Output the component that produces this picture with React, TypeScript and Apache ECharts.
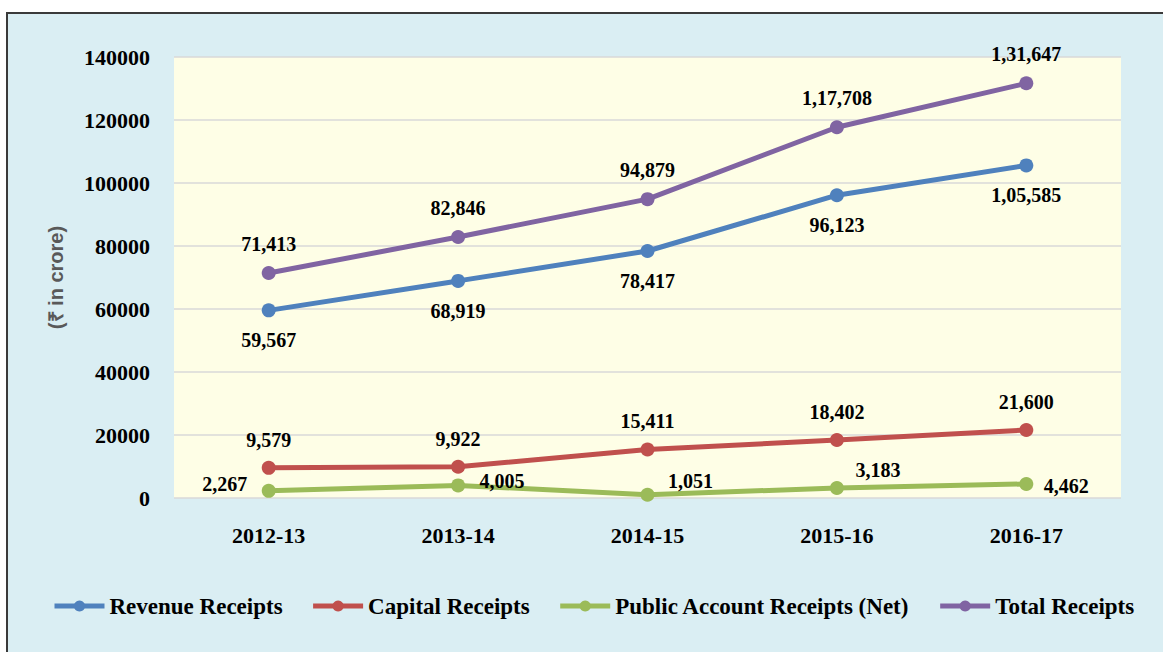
import React, { useEffect, useRef } from "react";
import * as echarts from "echarts";

const categories = ["2012-13", "2013-14", "2014-15", "2015-16", "2016-17"];
const revenueReceipts = [59567, 68919, 78417, 96123, 105585];
const capitalReceipts = [9579, 9922, 15411, 18402, 21600];
const publicAccountReceipts = [2267, 4005, 1051, 3183, 4462];
const totalReceipts = [71413, 82846, 94879, 117708, 131647];
const yTicks = { min: 0, max: 140000, interval: 20000 };
const seriesNames = [
  "Revenue Receipts",
  "Capital Receipts",
  "Public Account Receipts (Net)",
  "Total Receipts",
];

// Indian-style grouping: 1,31,647
function fmtIndian(v: number): string {
  const s = String(Math.round(v));
  if (s.length <= 3) return s;
  const last3 = s.slice(-3);
  let rest = s.slice(0, -3);
  const parts: string[] = [];
  while (rest.length > 2) {
    parts.unshift(rest.slice(-2));
    rest = rest.slice(0, -2);
  }
  if (rest.length) parts.unshift(rest);
  return parts.join(",") + "," + last3;
}

const SERIF = '"Liberation Serif", "Times New Roman", serif';
const colors = ["#4F81BD", "#C0504D", "#9BBB59", "#8064A2"];

export default function App() {
  const ref = useRef<HTMLDivElement>(null);
  useEffect(() => {
    document.body.style.margin = "0";
    if (!ref.current) return;
    const chart = echarts.init(ref.current, undefined, { renderer: "svg" });

    const labelBase = {
      show: true,
      position: "inside" as const,
      color: "#000",
      fontFamily: SERIF,
      fontWeight: "bold" as const,
      fontSize: 20,
      formatter: (p: any) => fmtIndian(p.value),
    };

    const mk = (name: string, data: number[], color: string, offsets: number[][]) => ({
      name,
      type: "line",
      data: data.map((v, i) => ({
        value: v,
        label: { ...labelBase, offset: offsets[i] },
      })),
      symbol: "circle",
      symbolSize: 14,
      showSymbol: true,
      itemStyle: { color },
      lineStyle: { color, width: 5 },
      label: labelBase,
      z: 3,
    });

    const rep = (o: number[]) => categories.map(() => o);

    chart.setOption({
      animation: false,
      backgroundColor: "transparent",
      color: colors,
      graphic: [
        {
          type: "rect",
          shape: { x: 7, y: 13, width: 1180, height: 660 },
          style: { fill: "#DAEEF3", stroke: "#3a3a3a", lineWidth: 2 },
          z: -10,
          silent: true,
        },
      ],
      grid: {
        left: 174,
        top: 57,
        width: 947,
        height: 441,
        show: true,
        backgroundColor: "#FEFEE6",
        borderWidth: 0,
        containLabel: false,
        outerBoundsMode: "none",
      },
      legend: {
        data: seriesNames,
        left: 52,
        top: 594,
        padding: 0,
        itemWidth: 50,
        itemHeight: 14,
        itemGap: 28,
        lineStyle: { width: 5 },
        textStyle: {
          fontFamily: SERIF,
          fontWeight: "bold",
          fontSize: 23,
          color: "#000",
          lineHeight: 24,
        },
      },
      xAxis: {
        type: "category",
        data: categories,
        boundaryGap: true,
        axisLine: { show: false },
        axisTick: { show: false },
        axisLabel: {
          color: "#000",
          fontFamily: SERIF,
          fontWeight: "bold",
          fontSize: 22,
          margin: 26,
        },
      },
      yAxis: {
        type: "value",
        min: yTicks.min,
        max: yTicks.max,
        interval: yTicks.interval,
        name: "(₹ in crore)",
        nameLocation: "middle",
        nameRotate: 90,
        nameGap: 108,
        nameTextStyle: {
          color: "#595959",
          fontFamily: '"Liberation Sans", Arial, sans-serif',
          fontWeight: "bold",
          fontSize: 20,
        },
        axisLine: { show: false },
        axisTick: { show: false },
        splitLine: { lineStyle: { color: "#D9D9D9", width: 1.5 } },
        axisLabel: {
          color: "#000",
          fontFamily: SERIF,
          fontWeight: "bold",
          fontSize: 22,
          margin: 24,
          formatter: (v: number) => String(v),
        },
      },
      series: [
        mk(seriesNames[0], revenueReceipts, colors[0], rep([0, 30])),
        mk(seriesNames[1], capitalReceipts, colors[1], rep([0, -28])),
        mk(seriesNames[2], publicAccountReceipts, colors[2], [
          [-44, -7],
          [44, -4],
          [43, -14],
          [41, -18],
          [40, 2],
        ]),
        mk(seriesNames[3], totalReceipts, colors[3], rep([0, -29])),
      ],
    });
    return () => chart.dispose();
  }, []);
  return <div ref={ref} style={{ width: 1163, height: 652 }} />;
}
